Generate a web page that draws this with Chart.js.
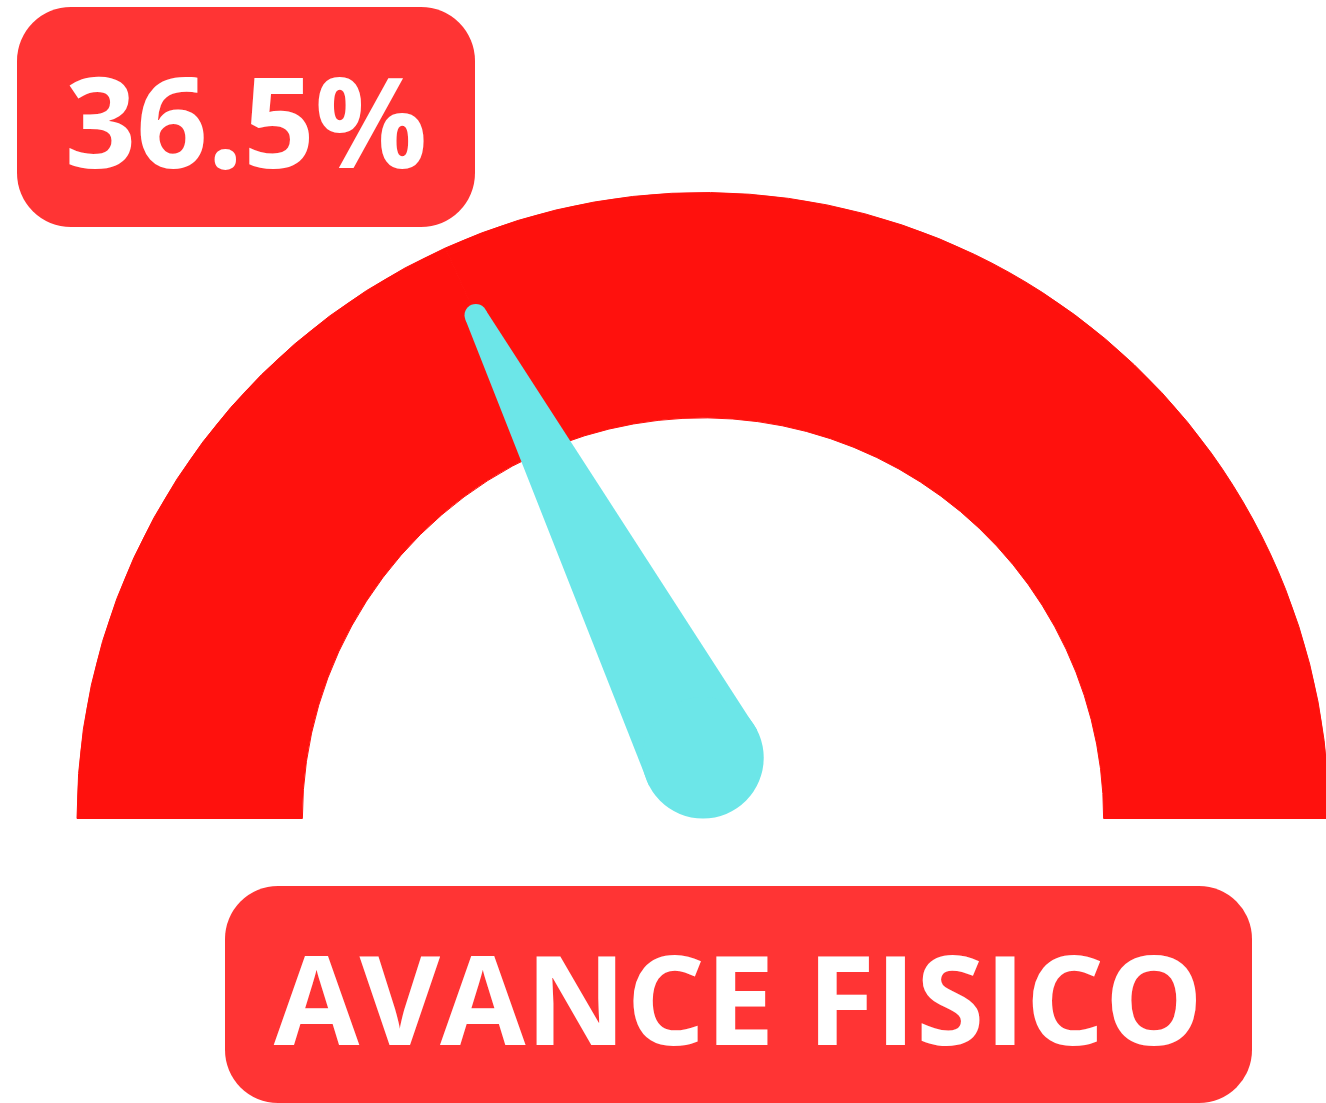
<!DOCTYPE html>
<html>
<head>
<meta charset="utf-8">
<script src="https://cdn.jsdelivr.net/npm/chart.js@4.4.1/dist/chart.umd.min.js"></script>
<style>
  html, body { margin: 0; padding: 0; background: #fff; }
  #wrap { position: relative; width: 1326px; height: 1103px; overflow: hidden; }
  #gauge { position: absolute; left: 0; top: 0; }
  .box {
    position: absolute;
    box-sizing: border-box;
    padding-top: 4px;
    background: #ff3434;
    color: #fff;
    font-family: "Open Sans", sans-serif;
    font-weight: 700;
    display: flex;
    align-items: center;
    justify-content: center;
    line-height: normal;
    white-space: nowrap;
  }
  #valueBox { left: 17px; top: 7px; width: 458px; height: 220px; border-radius: 54px; font-size: 125px; }
  #titleBox { left: 225px; top: 886px; width: 1027px; height: 217px; border-radius: 53px; font-size: 124px; }
</style>
</head>
<body>
<div id="wrap">
  <canvas id="gauge" width="1326" height="1103"></canvas>
  <div class="box" id="valueBox"></div>
  <div class="box" id="titleBox"></div>
</div>
<script>
const labels = ["Avance", "Pendiente"];
const values = [36.5, 63.5];
const title = "AVANCE FISICO";

const arcColor = "#ff110d";
const needleColor = "#6ce6e8";

document.getElementById("valueBox").textContent = values[0] + "%";
document.getElementById("titleBox").textContent = title;

// needle drawn from the first arc's end angle
const needle = {
  id: "needle",
  afterDatasetsDraw(chart) {
    const arc = chart.getDatasetMeta(0).data[0];
    const ctx = chart.ctx;
    const R = arc.outerRadius;
    const len = R * 0.882;
    const rb = R * 0.097;
    const rt = R * 0.018;
    const tx = arc.x + len * Math.cos(arc.endAngle);
    const ty = arc.y + len * Math.sin(arc.endAngle);
    const bx = arc.x;
    const by = arc.y - rb;
    const d = Math.hypot(tx - bx, ty - by);
    const nx = -(ty - by) / d;
    const ny = (tx - bx) / d;

    ctx.save();
    ctx.fillStyle = needleColor;
    ctx.beginPath();
    ctx.moveTo(bx + nx * rb, by + ny * rb);
    ctx.lineTo(tx + nx * rt, ty + ny * rt);
    ctx.lineTo(tx - nx * rt, ty - ny * rt);
    ctx.lineTo(bx - nx * rb, by - ny * rb);
    ctx.closePath();
    ctx.fill();
    ctx.beginPath();
    ctx.arc(bx, by, rb, 0, Math.PI * 2);
    ctx.fill();
    ctx.beginPath();
    ctx.arc(tx, ty, rt, 0, Math.PI * 2);
    ctx.fill();
    ctx.restore();
  }
};

const ctx = document.getElementById("gauge").getContext("2d");
new Chart(ctx, {
  type: "doughnut",
  data: {
    labels: labels,
    datasets: [{
      data: values,
      backgroundColor: [arcColor, arcColor],
      borderColor: arcColor,
      borderWidth: 1
    }]
  },
  options: {
    responsive: false,
    animation: false,
    rotation: -90,
    circumference: 180,
    radius: 626,
    cutout: "64%",
    layout: { padding: { left: 80, right: 0, top: 0, bottom: 92 } },
    plugins: {
      legend: { display: false },
      tooltip: { enabled: false }
    }
  },
  plugins: [needle]
});
</script>
</body>
</html>
